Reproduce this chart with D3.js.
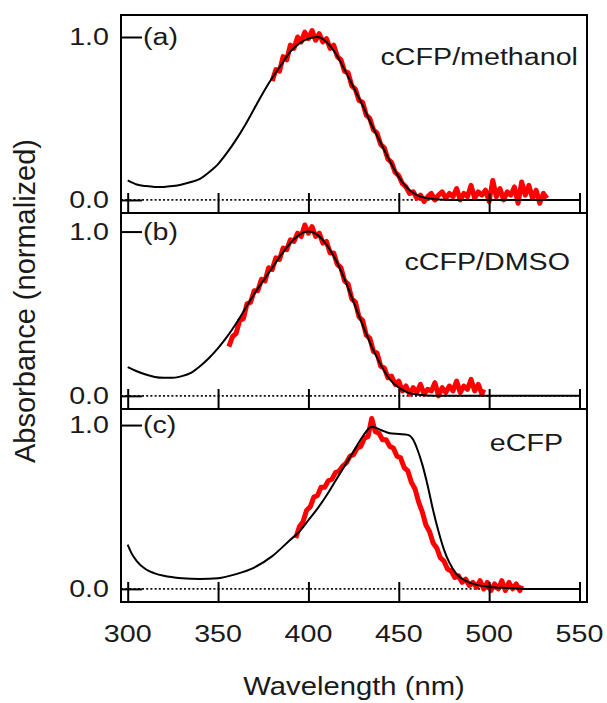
<!DOCTYPE html>
<html>
<head>
<meta charset="utf-8">
<script src="https://cdn.jsdelivr.net/npm/d3@7"></script>
<style>
body { margin: 0; background: #fff; }
text { font-family: "Liberation Sans", Arial, sans-serif; fill: #1a1a1a; }
</style>
</head>
<body>
<div id="chart"></div>
<script>
// ---- data ----
var wavelengthTicks = [300, 350, 400, 450, 500, 550];
var absTicks = [0.0, 1.0];
var panelLetters = ["(a)", "(b)", "(c)"];
var sampleNames = ["cCFP/methanol", "cCFP/DMSO", "eCFP"];

// black curves [nm, normalized absorbance]
var fitA = [[300,.12],[305,.095],[310,.085],[315,.08],[320,.08],[325,.085],[330,.095],[335,.11],[340,.13],[345,.17],
	[350,.22],[355,.29],[360,.37],[365,.46],[370,.56],[375,.66],[380,.75],[385,.83],[390,.91],[395,.96],[400,.99],
	[405,1.0],[410,.97],[415,.9],[420,.8],[425,.69],[430,.58],[435,.46],[440,.35],[445,.24],[450,.14],[455,.07],
	[460,.03],[465,.012],[470,.005],[480,0],[500,0],[550,0]];
var fitB = [[300,.175],[305,.15],[310,.13],[315,.115],[320,.11],[325,.11],[330,.12],[335,.14],[340,.18],[345,.23],
	[350,.29],[355,.36],[360,.44],[365,.53],[370,.62],[375,.7],[380,.78],[385,.86],[390,.93],[395,.98],[400,1.0],
	[405,.98],[410,.92],[415,.83],[420,.71],[425,.57],[430,.43],[435,.3],[440,.19],[445,.1],[450,.05],[455,.02],
	[460,.008],[470,0],[500,0],[550,0]];
var fitC = [[300,.27],[302,.22],[305,.17],[310,.12],[315,.095],[320,.08],[330,.065],[340,.06],[350,.065],[360,.09],
	[370,.13],[380,.2],[390,.3],[395,.35],[400,.42],[405,.49],[410,.57],[415,.66],[420,.75],[425,.84],[430,.93],
	[435,.99],[440,.97],[445,.95],[450,.945],[455,.94],[458,.91],[460,.86],[463,.76],[466,.63],[469,.48],[472,.35],
	[475,.24],[478,.16],[482,.09],[486,.055],[490,.035],[495,.02],[500,.012],[510,.005],[520,0],[550,0]];

// red measured spectra [nm, normalized absorbance]
var measA = [[380,.73],[382,.80],[384,.79],[386,.88],[388,.86],[390,.95],[392,.93],[394,1.00],[396,.97],[398,1.03],
	[400,.99],[402,1.04],[404,.98],[406,1.02],[408,.97],[410,.99],[412,.93],[414,.95],[416,.88],[418,.86],[420,.79],
	[422,.78],[424,.70],[426,.68],[428,.61],[430,.60],[432,.52],[434,.50],[436,.43],[438,.41],[440,.34],[442,.32],
	[444,.25],[446,.23],[448,.17],[450,.15],[452,.10],[454,.08],[456,.04],[458,.05],[460,.01],[462,.03],[464,-.01],
	[466,.02],[468,.04],[470,.00],[472,.03],[474,.05],[476,.01],[478,.04],[480,.02],[482,.07],[484,.00],[486,.04],
	[488,.02],[490,.09],[492,.01],[494,.05],[496,.03],[498,.06],[500,-.01],[502,.12],[504,.02],[506,.07],[508,.00],
	[510,.05],[512,.03],[514,.08],[516,-.02],[518,.11],[520,.03],[522,.09],[524,.01],[526,.06],[528,-.02],[530,.04],[532,.01]];
var measB = [[356,.30],[358,.36],[360,.38],[362,.46],[364,.47],[366,.56],[368,.57],[370,.64],[372,.64],[374,.71],
	[376,.70],[378,.78],[380,.77],[382,.84],[384,.83],[386,.90],[388,.89],[390,.95],[392,.94],[394,.99],[396,.97],
	[398,1.04],[400,.99],[402,1.03],[404,.97],[406,.99],[408,.93],[410,.94],[412,.87],[414,.87],[416,.80],[418,.78],
	[420,.70],[422,.68],[424,.59],[426,.57],[428,.48],[430,.46],[432,.37],[434,.35],[436,.27],[438,.26],[440,.18],
	[442,.17],[444,.11],[446,.12],[448,.07],[450,.09],[452,.03],[454,.06],[456,.01],[458,.05],[460,.02],[462,.07],
	[464,.01],[466,.04],[468,.03],[470,.08],[472,.00],[474,.05],[476,.02],[478,.06],[480,.03],[482,.09],[484,.02],
	[486,.06],[488,.04],[490,.10],[492,.03],[494,.07],[496,.01],[497,.04]];
var measC = [[393,.31],[395,.38],[397,.41],[399,.48],[401,.50],[403,.56],[405,.57],[407,.62],[409,.62],[411,.66],
	[413,.67],[415,.71],[417,.72],[419,.75],[421,.77],[423,.81],[425,.82],[427,.86],[429,.87],[431,.92],[433,.93],
	[435,1.04],[437,.96],[439,.95],[441,.91],[443,.91],[445,.87],[447,.86],[449,.81],[451,.80],[453,.74],[455,.72],
	[457,.65],[459,.61],[461,.53],[463,.47],[465,.39],[467,.35],[469,.28],[471,.25],[473,.19],[475,.17],[477,.12],
	[479,.11],[481,.07],[483,.08],[485,.04],[487,.06],[489,.02],[491,.04],[493,.01],[495,.05],[497,.00],[499,.04],
	[501,-.01],[503,.03],[505,.00],[507,.05],[509,-.01],[511,.04],[513,.00],[515,.03],[517,-.01],[518,.02]];

var fits = [fitA, fitB, fitC];
var spectra = [measA, measB, measC];

// ---- layout ----
var W = 607, H = 703;
var frameLeft = 121, frameRight = 587;
var panelTop = [15, 213, 409], panelBottom = [213, 409, 602];
var panelYMax = [1.135, 1.113, 1.098];
var sampleRight = [578, 570, 563], sampleMidY = [57, 262, 443];
var stretch = 1.17;

var svg = d3.select("#chart").append("svg")
	.attr("width", W)
	.attr("height", H);

var x = d3.scaleLinear().domain([300, 550]).range([127.7, 579.5]);

function stretchText(sel, tx, ty) {
	return sel.attr("transform", "translate(" + tx + "," + ty + ") scale(" + stretch + ",1)");
}

panelLetters.forEach(function(letter, i) {
	var y = d3.scaleLinear().domain([-0.08, panelYMax[i]]).range([panelBottom[i], panelTop[i]]);
	var g = svg.append("g");

	// dotted zero line
	g.append("line")
		.attr("x1", frameLeft).attr("x2", x(550))
		.attr("y1", y(0)).attr("y2", y(0))
		.attr("stroke", "#111")
		.attr("stroke-width", 1.8)
		.attr("stroke-dasharray", "2,2.2");

	// measured (red)
	g.append("path")
		.datum(spectra[i])
		.attr("fill", "none")
		.attr("stroke", "#ff0000")
		.attr("stroke-width", 5)
		.attr("stroke-linejoin", "round")
		.attr("d", d3.line().x(function(d){return x(d[0]);}).y(function(d){return y(d[1]);}));

	// black curve
	g.append("path")
		.datum(fits[i])
		.attr("fill", "none")
		.attr("stroke", "#000")
		.attr("stroke-width", 2)
		.attr("d", d3.line().x(function(d){return x(d[0]);}).y(function(d){return y(d[1]);}).curve(d3.curveMonotoneX));

	// inner x ticks
	var xa = g.append("g")
		.attr("transform", "translate(0," + panelBottom[i] + ")")
		.call(d3.axisBottom(x).tickValues(wavelengthTicks).tickSize(-20).tickFormat(""));
	xa.select(".domain").remove();
	xa.selectAll("line").attr("stroke", "#000").attr("stroke-width", 2);

	// inner y ticks
	var ya = g.append("g")
		.attr("transform", "translate(" + frameLeft + ",0)")
		.call(d3.axisLeft(y).tickValues(absTicks).tickSize(-21).tickFormat(""));
	ya.select(".domain").remove();
	ya.selectAll("line").attr("stroke", "#000").attr("stroke-width", 2);

	// y tick labels
	absTicks.forEach(function(t) {
		stretchText(g.append("text"), 109, y(t))
			.attr("text-anchor", "end")
			.attr("dominant-baseline", "central")
			.attr("font-size", 24.5)
			.text(d3.format(".1f")(t));
	});

	// panel letter
	stretchText(g.append("text"), 143, y(1))
		.attr("dominant-baseline", "central")
		.attr("font-size", 24.5)
		.text(letter);

	// sample name
	stretchText(g.append("text"), sampleRight[i], sampleMidY[i])
		.attr("text-anchor", "end")
		.attr("dominant-baseline", "central")
		.attr("font-size", 24.5)
		.text(sampleNames[i]);

	// separator / frame
	g.append("line")
		.attr("x1", frameLeft).attr("x2", frameRight)
		.attr("y1", panelBottom[i]).attr("y2", panelBottom[i])
		.attr("stroke", "#000").attr("stroke-width", 2);
});

svg.append("rect")
	.attr("x", frameLeft).attr("y", panelTop[0])
	.attr("width", frameRight - frameLeft)
	.attr("height", panelBottom[2] - panelTop[0])
	.attr("fill", "none")
	.attr("stroke", "#000")
	.attr("stroke-width", 2);

// x tick labels
wavelengthTicks.forEach(function(t) {
	stretchText(svg.append("text"), x(t), 642)
		.attr("text-anchor", "middle")
		.attr("font-size", 24.5)
		.text(t);
});

// axis titles
stretchText(svg.append("text"), 354, 695)
	.attr("text-anchor", "middle")
	.attr("font-size", 25)
	.text("Wavelength (nm)");

svg.append("text")
	.attr("transform", "translate(35,301) rotate(-90)")
	.attr("text-anchor", "middle")
	.attr("font-size", 29)
	.text("Absorbance (normalized)");
</script>
</body>
</html>
